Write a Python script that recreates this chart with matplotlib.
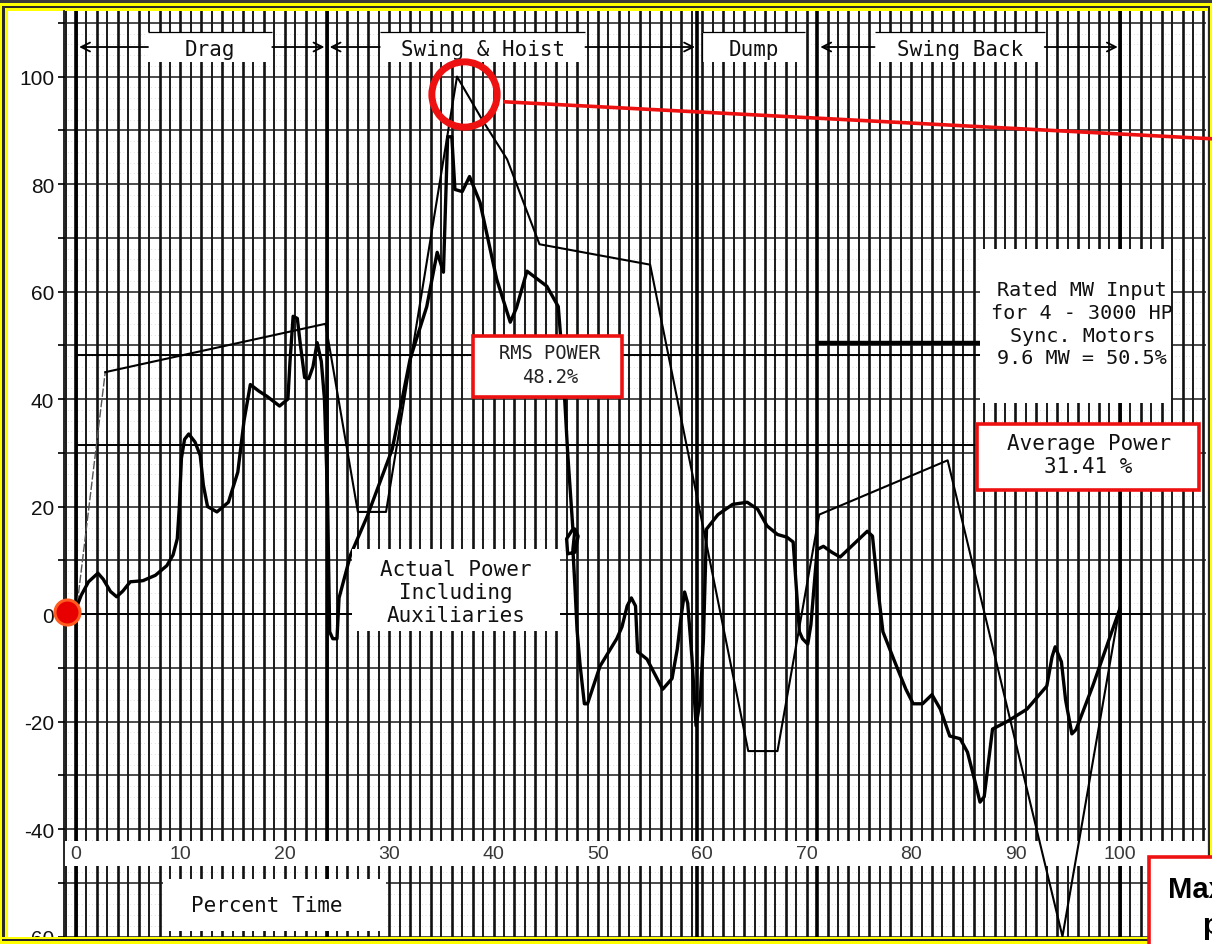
import matplotlib
matplotlib.use('Agg')
import matplotlib.pyplot as plt
from matplotlib.patches import Rectangle

W, H, DPI = 1212, 945, 100

#actual power including auxiliaries, % of rated input vs % of cycle time
actual_x = [0.0, 0.5, 1.2, 2.1, 2.6, 3.3, 3.9, 4.5, 5.2, 6.4, 7.6, 8.7, 9.3, 9.7, 9.9,
            10.1, 10.4, 10.8, 11.4, 11.9, 12.2, 12.6, 13.5, 14.6, 15.5, 16.1, 16.7, 17.5,
            18.3, 19.5, 20.3, 20.5, 20.8, 21.2, 21.5, 21.9, 22.3, 22.7, 23.1, 23.5, 23.8,
            24.1, 24.3, 24.6, 25.0, 25.2, 26.3, 27.9, 30.3, 32.0, 33.6, 34.6, 35.2, 35.6,
            36.0, 36.3, 37.0, 37.7, 38.7, 40.3, 41.6, 42.2, 43.2, 45.1, 46.2, 46.6, 47.1,
            47.6, 47.0, 47.1, 47.8, 48.1, 47.8, 47.6, 47.8, 48.0, 48.3, 48.7, 49.0, 50.2,
            51.8, 52.3, 52.8, 53.2, 53.6, 53.8, 54.7, 56.2, 57.1, 57.6, 58.0, 58.3, 58.6,
            59.0, 59.4, 59.8, 60.1, 60.4, 61.5, 62.9, 64.3, 65.3, 66.2, 67.2, 68.1, 68.7,
            69.0, 69.3, 69.6, 70.1, 70.4, 70.7, 71.0, 71.6, 72.4, 73.2, 74.5, 75.8, 76.3,
            76.8, 77.3, 78.6, 79.5, 80.2, 81.1, 82.0, 82.8, 83.7, 84.7, 85.4, 86.1, 86.6,
            87.0, 87.8, 89.2, 91.1, 93.0, 93.5, 93.8, 94.4, 94.8, 95.4, 95.8, 97.4, 100.0]
actual_y = [1.0, 3.5, 6.0, 7.6, 6.5, 4.2, 3.2, 4.3, 6.0, 6.2, 7.2, 9.0, 11.0, 14.0, 20.0,
            29.0, 32.5, 33.5, 32.0, 29.5, 24.0, 20.0, 19.0, 20.8, 26.4, 36.0, 42.7, 41.5,
            40.5, 38.7, 40.0, 47.0, 55.4, 55.0, 50.0, 44.0, 43.8, 46.0, 50.5, 47.0, 40.0,
            21.4, -3.3, -4.6, -4.6, 3.0, 11.0, 18.2, 30.7, 47.4, 57.2, 67.3, 63.6, 88.8,
            88.8, 79.0, 78.6, 81.4, 76.6, 62.3, 54.3, 57.0, 63.8, 61.0, 57.2, 47.4, 30.0,
            15.8, 14.0, 11.2, 11.5, 14.5, 15.8, 12.0, 5.0, -3.0, -9.7, -16.7, -16.7, -9.7,
            -4.6, -2.4, 1.5, 3.0, 1.5, -7.0, -8.4, -14.0, -12.0, -6.5, 0.0, 4.1, 2.0,
            -8.0, -20.8, -16.0, -5.0, 15.8, 18.5, 20.4, 20.8, 19.5, 16.4, 14.8, 14.3, 13.4,
            5.0, -3.3, -4.6, -5.6, -2.0, 5.0, 12.0, 12.6, 11.5, 10.6, 13.0, 15.4, 14.5,
            5.0, -3.3, -9.7, -14.0, -16.7, -16.7, -15.0, -17.7, -22.7, -23.2, -25.7, -31.0, -35.0,
            -34.0, -21.4, -20.0, -17.7, -13.4, -8.0, -6.1, -8.9, -16.0, -22.3, -21.5, -13.4, 1.0]

#straight-segment approximation of the cycle
outline_x = [0.0, 2.8, 23.9, 27.0, 29.7, 36.5, 38.9, 41.3, 44.4, 55.0, 64.4, 67.2, 71.2, 83.5, 94.5, 100.0]
outline_y = [0.0, 45.0, 54.0, 19.0, 19.0, 100.0, 92.0, 84.6, 68.8, 65.0, -25.5, -25.5, 18.5, 28.6, -60.0, 1.5]

rms_power = 48.2
avg_power = 31.41
rated_mw = 9.6
rated_power = 50.5

phase_names = ['Drag', 'Swing & Hoist', 'Dump', 'Swing Back']
phase_bounds = [0, 24, 59.5, 71, 100]

x_ticks = list(range(0, 101, 10))
y_ticks = list(range(-60, 101, 20))

plt.rcParams['font.family'] = ['Liberation Sans', 'DejaVu Sans']
MONO = 'DejaVu Sans Mono'
INK = '#111111'
RED = '#ee1111'

fig = plt.figure(figsize=(W / DPI, H / DPI), dpi=DPI, facecolor='#3b3b3b')


def fig_rect(px0, py0, px1, py1, z, **kw):
    """rectangle given in pixel coords from the top-left corner"""
    r = Rectangle((px0 / W, 1 - py1 / H), (px1 - px0) / W, (py1 - py0) / H,
                  transform=fig.transFigure, zorder=z, **kw)
    fig.add_artist(r)
    return r


#yellow double frame around the slide
fig_rect(0, 4, W, H, -10, facecolor='#ffff00', edgecolor='none')
fig_rect(2.5, 6.5, 1209.5, 941.5, -9, facecolor='#2a2a2a', edgecolor='none')
fig_rect(4.5, 8.5, 1208, 940, -8, facecolor='#ffff00', edgecolor='none')
fig_rect(8, 12, 1207, 937.5, -7, facecolor='white', edgecolor='none')

ax = fig.add_axes([64 / W, 1 - 937.5 / H, (1206 - 64) / W, (937.5 - 12) / H])
ax.set_xlim(-1.15, 108.25)
ax.set_ylim(-60.0, 112.2)
ax.set_facecolor('white')


def white_box(x0, x1, y0, y1, z=4, edge='none', lw=0):
    ax.add_patch(Rectangle((x0, y0), x1 - x0, y1 - y0, facecolor='white',
                           edgecolor=edge, lw=lw, zorder=z))


#chart paper: a line every percent of time, every 10 % vertically
for i in range(-1, 109):
    ax.axvline(i, color='#111111', lw=1.9 if i % 2 == 0 else 1.35, zorder=1)
for v in range(-60, 111, 10):
    ax.axhline(v, color='#1a1a1a', lw=1.1, zorder=1)
for v in range(-58, 112, 2):
    if v % 10:
        ax.axhline(v, color='#c4c4c4', lw=0.5, ls=(0, (1, 4)), zorder=0.9)
for b in phase_bounds:
    ax.axvline(b, color='black', lw=2.6, zorder=1.5)

#band carrying the time labels
ax.axhspan(-46.9, -42.2, color='white', lw=0, zorder=2)
for t in x_ticks:
    ax.text(t, -44.6, str(t), ha='center', va='center', fontsize=14,
            color='#383838', zorder=2.1)
white_box(8.3, 29.7, -59.0, -49.3, z=2)
ax.text(18.3, -54.1, 'Percent Time', family=MONO, fontsize=15, color=INK,
        ha='center', va='center', zorder=2.1)

#reference levels
ax.hlines(0, 0, 103, color='black', lw=1.4, zorder=2.5)
ax.hlines(avg_power, 0, 100, color='black', lw=1.4, zorder=2.5)
ax.hlines(rms_power, 0, 100, color='black', lw=1.4, zorder=2.5)
ax.hlines(rated_power, 71, 87, color='black', lw=3.2, zorder=2.5)

#power curves
ax.plot(outline_x[:2], outline_y[:2], color='#555555', lw=1.0, ls=(0, (6, 1.5)), zorder=3)
ax.plot(outline_x[1:], outline_y[1:], color='black', lw=1.5, zorder=3,
        solid_joinstyle='round')
ax.plot(actual_x, actual_y, color='black', lw=2.4, zorder=3.2,
        solid_joinstyle='round', solid_capstyle='round')

#phase headings with arrows along the top
phase_boxes = [(6.9, 18.8), (29.1, 48.8), (60.0, 69.8), (76.5, 92.8)]
arrow_y = 105.5
for name, (b0, b1), lo, hi in zip(phase_names, phase_boxes, phase_bounds[:-1], phase_bounds[1:]):
    white_box(b0, b1, 102.7, 108.3)
    ax.hlines(108.3, b0, b1, color='black', lw=0.9, zorder=4.1)
    ax.text((b0 + b1) / 2, 105.1, name, family=MONO, fontsize=15, color=INK,
            ha='center', va='center', zorder=5)
    if name == 'Dump':
        ax.vlines(b0, 102.7, 108.3, color='black', lw=0.9, zorder=4.1)
        continue
    arrow = dict(arrowstyle='->', lw=1.3, color='black', shrinkA=0, shrinkB=0,
                 mutation_scale=16)
    ax.annotate('', xy=(lo + 0.3, arrow_y), xytext=(b0, arrow_y), arrowprops=arrow, zorder=5)
    ax.annotate('', xy=(hi - 0.2, arrow_y), xytext=(b1, arrow_y), arrowprops=arrow, zorder=5)

#text boxes
white_box(26.4, 46.4, -3.2, 12.1)
ax.text(36.4, 4.1, 'Actual Power\nIncluding\nAuxiliaries', family=MONO, fontsize=15,
        color=INK, ha='center', va='center', linespacing=1.2, zorder=5)

white_box(38.0, 52.3, 40.4, 51.7, z=4.5, edge=RED, lw=2.6)
ax.text(45.4, 46.4, f'RMS POWER\n{rms_power}%', family=MONO, fontsize=13.5,
        color='#222222', ha='center', va='center', linespacing=1.3, zorder=5)

white_box(86.6, 104.9, 39.3, 67.9)
ax.text(96.4, 54.0, f'Rated MW Input\nfor 4 - 3000 HP\nSync. Motors\n'
        f'{rated_mw} MW = {rated_power}%', family=MONO, fontsize=14.5, color=INK,
        ha='center', va='center', linespacing=1.25, zorder=5)

white_box(86.3, 107.6, 23.1, 35.3, z=4.5, edge=RED, lw=2.6)
ax.text(97.0, 29.7, f'Average Power\n{avg_power} %', family=MONO, fontsize=15,
        color=INK, ha='center', va='center', linespacing=1.2, zorder=5)

#highlight the peak and the origin
pk = outline_y.index(max(outline_y))
ax.plot(outline_x[pk] + 0.7, outline_y[pk] - 3.3, 'o', ms=47, mfc='none', mec=RED,
        mew=5, zorder=6, clip_on=False)
ax.plot([41.1, 112.0], [95.3, 88.1], color=RED, lw=2.6, zorder=6, clip_on=False)
ax.plot(outline_x[0] - 0.86, outline_y[0] + 0.4, 'o', ms=18, mfc='#e80000',
        mec='#ff5a1f', mew=2.2, zorder=7, clip_on=False)

#axes dressing
ax.set_xticks([])
ax.set_yticks(y_ticks)
ax.set_yticklabels([str(v) for v in y_ticks])
ax.set_yticks(range(-50, 111, 20), minor=True)
ax.tick_params(axis='y', which='both', length=4, width=1.2, direction='out', pad=3,
               labelsize=15, labelcolor=INK)
for s in ['top', 'right', 'bottom']:
    ax.spines[s].set_visible(False)
ax.spines['left'].set_linewidth(1.2)

#bottom edge of the frame drawn over the last tick label
fig_rect(0, 937.5, W, H, 10, facecolor='#ffff00', edgecolor='none')
fig_rect(2.5, 940, 1209.5, 941.5, 10.1, facecolor='#2a2a2a', edgecolor='none')

#call-out box running off the right edge
fig_rect(1149, 858, 1240, 980, 11, facecolor='white', edgecolor=RED, lw=2.6)
fig.text(1168 / W, 1 - 898 / H, 'Max', fontsize=21, fontweight='bold', color='black',
         ha='left', va='baseline', zorder=12)
fig.text(1202 / W, 1 - 934 / H, 'power', fontsize=21, fontweight='bold', color='black',
         ha='left', va='baseline', zorder=12)

fig.savefig('out.png', dpi=DPI, facecolor=fig.get_facecolor())
